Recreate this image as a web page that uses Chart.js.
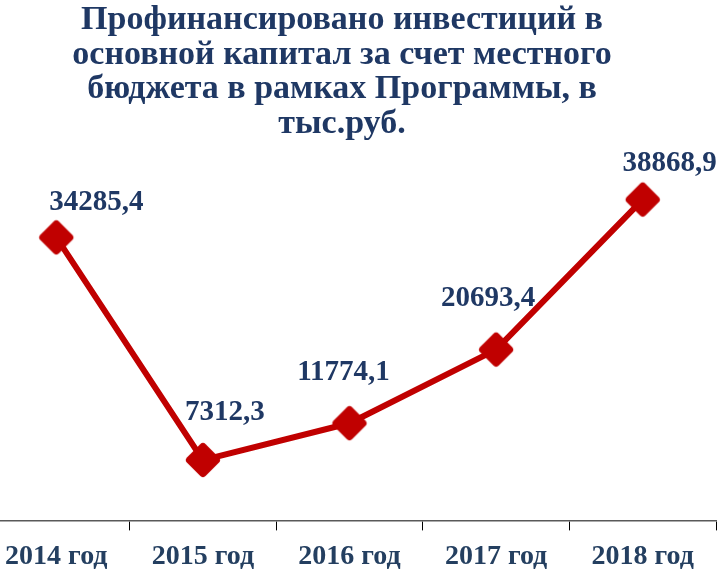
<!DOCTYPE html>
<html lang="ru">
<head>
<meta charset="utf-8">
<title>Профинансировано инвестиций</title>
<script src="https://cdn.jsdelivr.net/npm/chart.js@4/dist/chart.umd.min.js"></script>
<style>
  html, body { margin: 0; padding: 0; background: #fff; overflow: hidden; }
  .wrap { position: relative; width: 719px; height: 576px; overflow: hidden; }
  #chart { position: absolute; left: -17px; top: 0; }
  .titulo {
    position: absolute; left: 0; top: 1px; width: 684px;
    text-align: center; font: bold 34px "Liberation Serif", "Times New Roman", serif;
    line-height: 34.5px; color: #1F3864;
  }
</style>
</head>
<body>
<div class="wrap">
  <canvas id="chart" width="736" height="576"></canvas>
  <div class="titulo">Профинансировано инвестиций в<br>основной капитал за счет местного<br>бюджета в рамках Программы, в<br>тыс.руб.</div>
</div>
<script>
// --- DATOS ---
const categorias = ["2014 год", "2015 год", "2016 год", "2017 год", "2018 год"];
const valores = [34285.4, 7312.3, 11774.1, 20693.4, 38868.9];
const ejeMin = 0;
const ejeMax = 45000;

// desplazamiento de cada etiqueta respecto a su punto (como en el original)
const desplazamientos = [[40, -35], [22, -48], [-6, -51], [-8, -51], [27, -36]];

// --- MARCADOR (rombo redondeado) ---
function crearRombo() {
  const c = document.createElement("canvas");
  c.width = 38;
  c.height = 38;
  const g = c.getContext("2d");
  g.translate(19, 19);
  g.rotate(Math.PI / 4);
  const s = 13.2, r = 4;
  g.beginPath();
  g.moveTo(-s + r, -s);
  g.arcTo(s, -s, s, s, r);
  g.arcTo(s, s, -s, s, r);
  g.arcTo(-s, s, -s, -s, r);
  g.arcTo(-s, -s, s, -s, r);
  g.closePath();
  g.fillStyle = "#C00000";
  g.fill();
  return c;
}

// --- ETIQUETAS DE DATOS ---
const etiquetas = {
  id: "etiquetas",
  afterDatasetsDraw(chart) {
    const ctx = chart.ctx;
    const meta = chart.getDatasetMeta(0);
    ctx.save();
    ctx.font = "bold 29px 'Liberation Serif', serif";
    ctx.fillStyle = "#1F3864";
    ctx.textAlign = "center";
    ctx.textBaseline = "middle";
    meta.data.forEach((p, i) => {
      const [dx, dy] = desplazamientos[i];
      const txt = valores[i].toFixed(1).replace(".", ",");
      ctx.fillText(txt, p.x + dx, p.y + dy);
    });
    ctx.restore();
  },
};

new Chart(document.getElementById("chart"), {
  type: "line",
  data: {
    labels: categorias,
    datasets: [
      {
        data: valores,
        borderColor: "#C00000",
        borderWidth: 6,
        tension: 0,
        pointStyle: crearRombo(),
        pointRadius: 16,
        borderCapStyle: "round",
        borderJoinStyle: "round",
      },
    ],
  },
  options: {
    responsive: false,
    animation: false,
    devicePixelRatio: 1,
    layout: { autoPadding: false, padding: { top: 149, right: 3, bottom: -8, left: 0 } },
    plugins: {
      legend: { display: false },
      tooltip: { enabled: false },
    },
    scales: {
      x: {
        offset: true,
        grid: {
          offset: true,
          drawOnChartArea: false,
          tickLength: 10,
          tickColor: "#000",
        },
        border: { color: "#595959", width: 1.5 },
        ticks: {
          padding: 10,
          color: "#243F60",
          font: { family: "'Liberation Serif', serif", size: 28, weight: "bold" },
        },
      },
      y: {
        display: false,
        min: ejeMin,
        max: ejeMax,
      },
    },
  },
  plugins: [etiquetas],
});
</script>
</body>
</html>
